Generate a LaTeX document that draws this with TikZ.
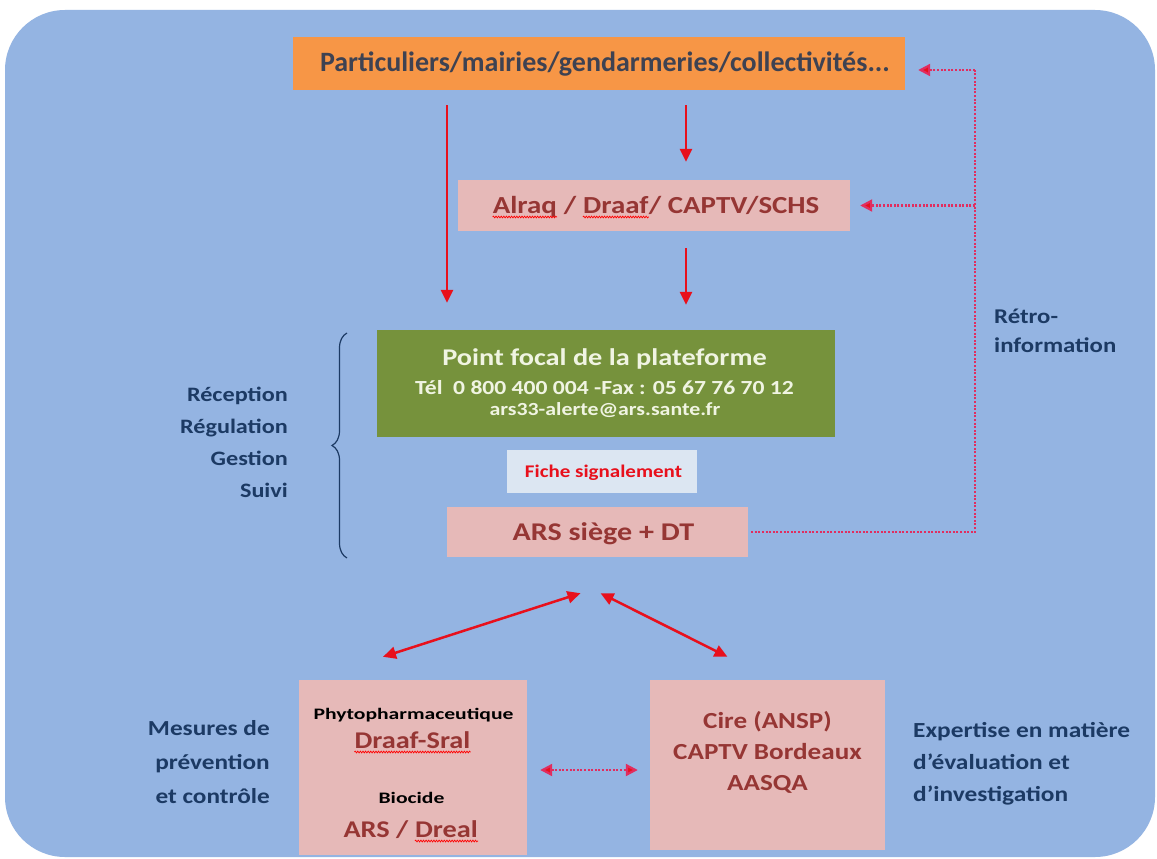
\documentclass[tikz,border=0pt]{standalone}
\usepackage{fontspec}
\setmainfont{Carlito}
\newfontfamily\widefont[FakeStretch=1.18]{Carlito}
\newfontfamily\widerfont[FakeStretch=1.35]{Carlito}
\usetikzlibrary{arrows.meta,decorations.pathreplacing,decorations.pathmorphing,calc}
\definecolor{bgblue}{RGB}{148,180,226}
\definecolor{orangec}{RGB}{247,150,70}
\definecolor{pinkc}{RGB}{230,185,184}
\definecolor{greenc}{RGB}{118,146,60}
\definecolor{fichec}{RGB}{220,230,242}
\definecolor{darkred}{RGB}{150,54,52}
\definecolor{navy}{RGB}{28,58,100}
\definecolor{slate}{RGB}{62,66,82}
\definecolor{cream}{RGB}{240,244,226}
\definecolor{arrred}{RGB}{232,16,28}
\definecolor{dotred}{RGB}{225,45,95}
\begin{document}
\begin{tikzpicture}[x=1pt,y=-1pt,
  box/.style={rectangle, inner sep=0pt, align=center},
  pinkbox/.style={box, fill=pinkc},
  txt/.style={inner sep=0pt},
  arr/.style={draw=arrred, line width=2.5pt, -{Triangle[length=13pt,width=12pt]}},
  darr/.style={draw=arrred, line width=2.5pt, {Triangle[length=13pt,width=12pt]}-{Triangle[length=13pt,width=12pt]}},
  dots/.style={draw=dotred, line width=2.2pt, dash pattern=on 2pt off 1.6pt},
  dotarr/.style={dots, -{Triangle[length=12pt,width=12pt,fill=arrred]}},
  ddotarr/.style={dots, {Triangle[length=12pt,width=12pt,fill=arrred]}-{Triangle[length=12pt,width=12pt,fill=arrred]}},
  wave/.style={draw=red, line width=0.7pt, decorate, decoration={snake, amplitude=0.9pt, segment length=2.6pt}},
  lbl/.style={txt, text=navy}
]
\useasboundingbox (0,0) rectangle (1157,859);
\fill[white] (0,0) rectangle (1157,859);
\fill[bgblue, rounded corners=60pt] (5,10) rectangle (1155,857);

% boxes
\node[box, fill=orangec, minimum width=612pt, minimum height=53pt] (org) at (599,63.5) {};
\node[txt, text=slate, font=\bfseries\fontsize{28}{30}\selectfont, anchor=base] (orgt) at (605,72) {Particuliers/mairies/gendarmeries/collectivités...};
\node[pinkbox, minimum width=392pt, minimum height=51pt] (alr) at (654,205.5) {};
\node[box, fill=greenc, minimum width=458pt, minimum height=107pt] (pf) at (606,383.5) {};
\node[box, fill=fichec, minimum width=190pt, minimum height=43pt] (fs) at (602,471.5) {};
\node[txt, text=arrred, font=\widefont\bfseries\fontsize{17.8}{20}\selectfont, anchor=base] (fst) at (603.5,477) {Fiche signalement};
\node[pinkbox, minimum width=301pt, minimum height=50pt] (ars) at (597.5,532) {};
\node[txt, text=darkred, font=\widefont\bfseries\fontsize{25.5}{28}\selectfont, anchor=base] (arst) at (603.5,540) {ARS siège + DT};
\node[pinkbox, minimum width=228pt, minimum height=175pt] (bl) at (413,767.5) {};
\node[pinkbox, minimum width=235pt, minimum height=170pt] (br) at (767.5,765) {};

% Alraq line
\begin{scope}[font=\widefont\bfseries\fontsize{24.5}{27}\selectfont, text=darkred]
\node[txt, anchor=base] (alt) at (655.5,213) {\phantom{Alraq / Draaf/ CAPTV/SCHS}};
\node[txt, anchor=base west] (al1) at (alt.base west) {Alraq};
\node[txt, anchor=base west] (al2) at (al1.base east) {\hbox{~/~}};
\node[txt, anchor=base west] (al3) at (al2.base east) {Draaf};
\node[txt, anchor=base west] (al4) at (al3.base east) {/ CAPTV/SCHS};
\end{scope}
\draw[wave] ([yshift=-4pt]al1.base west) -- ([yshift=-4pt]al1.base east);
\draw[wave] ([yshift=-4pt]al3.base west) -- ([yshift=-4pt]al3.base east);

% green text
\node[txt, text=cream, font=\widefont\bfseries\fontsize{24}{26}\selectfont, anchor=base] (pf1) at (604.5,365) {Point focal de la plateforme};
\node[txt, text=cream, font=\widefont\bfseries\fontsize{20}{22}\selectfont, anchor=base] (pf2) at (604.5,394) {Tél~ 0 800 400 004 -Fax : 05 67 76 70 12};
\node[txt, text=cream, font=\widefont\bfseries\fontsize{18.5}{20}\selectfont, anchor=base] (pf3) at (605,415) {ars33-alerte@ars.sante.fr};

% bottom-left box text
\node[txt, font=\widerfont\bfseries\fontsize{16}{18}\selectfont, anchor=base] (ph) at (413.5,719) {Phytopharmaceutique};
\node[txt, text=darkred, font=\widefont\bfseries\fontsize{24}{26}\selectfont, anchor=base] (ds) at (412.5,748) {Draaf-Sral};
\draw[wave] ([yshift=-4pt]ds.base west) -- ([yshift=-4pt]ds.base east);
\node[txt, font=\widerfont\bfseries\fontsize{16}{18}\selectfont, anchor=base] (bio) at (411.5,803) {Biocide};
\begin{scope}[font=\widefont\bfseries\fontsize{24}{26}\selectfont, text=darkred]
\node[txt, anchor=base] (adt) at (410.5,837) {\phantom{ARS / Dreal}};
\node[txt, anchor=base west] (ad1) at (adt.base west) {\hbox{ARS~/~}};
\node[txt, anchor=base west] (ad2) at (ad1.base east) {Dreal};
\end{scope}
\draw[wave] ([yshift=-4pt]ad2.base west) -- ([yshift=-4pt]ad2.base east);

% bottom-right box text (base = last line)
\node[txt, text=darkred, font=\widefont\bfseries\fontsize{23}{31}\selectfont, align=center, anchor=base] (brt) at (767.5,790) {Cire (ANSP)\\CAPTV Bordeaux\\AASQA};

% side labels (base = last line)
\node[lbl, font=\widefont\bfseries\fontsize{20.5}{32}\selectfont, align=right, anchor=base east] (rrgs) at (288,497) {Réception\\Régulation\\Gestion\\Suivi};
\node[lbl, font=\widefont\bfseries\fontsize{21}{29}\selectfont, align=left, anchor=base west] (retro) at (994,352) {Rétro-\\information};
\node[lbl, font=\widefont\bfseries\fontsize{21.4}{34}\selectfont, align=right, anchor=base east] (mes) at (270,803) {Mesures de\\prévention\\et contrôle};
\node[lbl, font=\widefont\bfseries\fontsize{21.5}{32}\selectfont, align=left, anchor=base west] (exp) at (913,801) {Expertise en matière\\d’évaluation et\\d’investigation};

% brace
\draw[navy, line width=1.2pt, decorate, decoration={brace, amplitude=15pt}] (347,558) -- (347,333);

% solid arrows
\coordinate (lx) at (447,0);
\coordinate (mx) at (686,0);
\draw[arr, shorten <=15pt, shorten >=27pt] (org.south -| lx) -- (pf.north -| lx);
\draw[arr, shorten <=15pt, shorten >=18pt] (org.south -| mx) -- (alr.north -| mx);
\draw[arr, shorten <=17pt, shorten >=25pt] (alr.south -| mx) -- (pf.north -| mx);

% retro-information dotted lines
\coordinate (rx) at (975,0);
\coordinate (ry) at (0,70);
\coordinate (rtop) at (975,70);
\draw[dots, shorten <=3pt] (ars.east) -| (rtop);
\draw[dotarr, shorten >=13pt] (rtop) -- (org.east |- ry);
\draw[dotarr, shorten >=10pt] (alr.east -| rx) -- (alr.east);

% double arrows to bottom boxes
\draw[darr] ([xshift=-17pt,yshift=-36pt]ars.south) -- ([xshift=-30pt,yshift=23pt]bl.north);
\draw[darr] ([xshift=3pt,yshift=-36pt]ars.south) -- ([xshift=-40pt,yshift=23pt]br.north);
\coordinate (by) at (0,770);
\draw[ddotarr, shorten <=13pt, shorten >=12pt] (bl.east |- by) -- (br.west |- by);
\end{tikzpicture}
\end{document}
